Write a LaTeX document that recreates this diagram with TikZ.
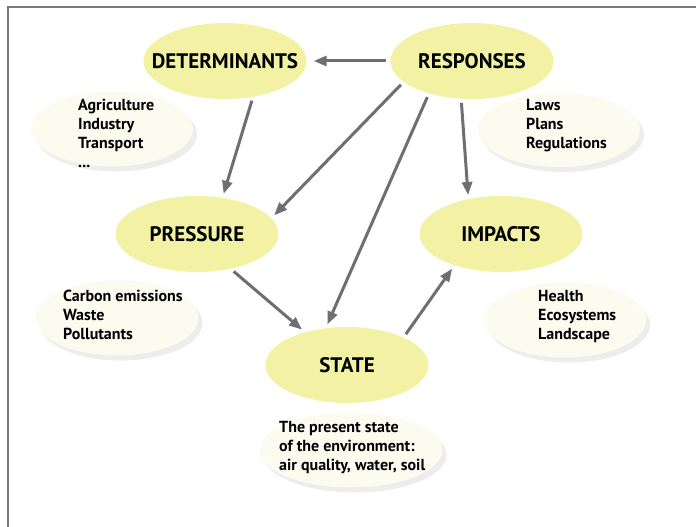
\documentclass[tikz,border=0pt]{standalone}
\usepackage{fontspec}
\setmainfont{PT Sans}
\usetikzlibrary{arrows.meta,shadows,shapes.geometric}
\definecolor{mainyel}{HTML}{F2F1A4}
\definecolor{paleyel}{HTML}{FBFBF0}
\definecolor{arrgray}{HTML}{6E6F73}
\definecolor{framegray}{HTML}{7A7A7A}
\tikzset{
  mainell/.style={ellipse, fill=mainyel, minimum width=163pt, minimum height=76pt, inner sep=0pt},
  maintxt/.style={font=\fontsize{21}{24}\selectfont\bfseries, inner sep=0pt},
  subell/.style={ellipse, fill=paleyel, inner sep=0pt,
    drop shadow={shadow xshift=4pt, shadow yshift=-5pt, fill=black, opacity=0.07}},
  subtxt/.style={anchor=north west, align=left, inner sep=0pt, font=\fontsize{16}{19}\selectfont\bfseries},
  arr/.style={draw=arrgray, line width=3pt, -{Triangle[length=13pt,width=10pt]}, shorten <=4pt, shorten >=4pt},
}
\begin{document}
\begin{tikzpicture}[x=1pt,y=-1pt]
\useasboundingbox (0,0) rectangle (696,527);
\fill[white] (0,0) rectangle (696,527);
\draw[framegray, line width=1.4pt] (8,527) -- (8,7) -- (696,7);

% sub ellipses
\node[subell, minimum width=162pt, minimum height=75pt] (agrE) at (112,129) {};
\node[subell, minimum width=162pt, minimum height=74pt] (lawE) at (559,130) {};
\node[subell, minimum width=163pt, minimum height=75pt] (carE) at (117,318) {};
\node[subell, minimum width=162pt, minimum height=75pt] (heaE) at (565,320) {};
\node[subell, minimum width=183pt, minimum height=75pt] (staE) at (351,450) {};

\node[subtxt] (agrT) at (78,99) {Agriculture\\Industry\\Transport\\...};
\node[subtxt] (lawT) at (526,99) {Laws\\Plans\\Regulations};
\node[subtxt] (carT) at (63,290) {Carbon emissions\\Waste\\Pollutants};
\node[subtxt] (heaT) at (538,290) {Health\\Ecosystems\\Landscape};
\node[subtxt] (staT) at (279,421) {The present state\\of the environment:\\air quality, water, soil};

% main ellipses
\node[mainell, label={[maintxt]center:DETERMINANTS}] (det) at (225,61) {};
\node[mainell, label={[maintxt]center:RESPONSES}] (res) at (472,61) {};
\node[mainell, label={[maintxt]center:PRESSURE}] (pre) at (197,234) {};
\node[mainell, label={[maintxt]center:IMPACTS}] (imp) at (501,234) {};
\node[mainell, label={[maintxt]center:STATE}] (sta) at (347,365) {};

% arrows
\draw[arr, shorten >=7pt] (res.west) -- (det.east);
\draw[arr] (det.-52) -- (pre.55);
\draw[arr] (res.-163) -- (pre.12);
\draw[arr] (res.-143) -- (sta.120);
\draw[arr] (res.-106) -- (imp.133);
\draw[arr] (pre.-46) -- (sta.142);
\draw[arr] (sta.26) -- (imp.-146);
\end{tikzpicture}
\end{document}
